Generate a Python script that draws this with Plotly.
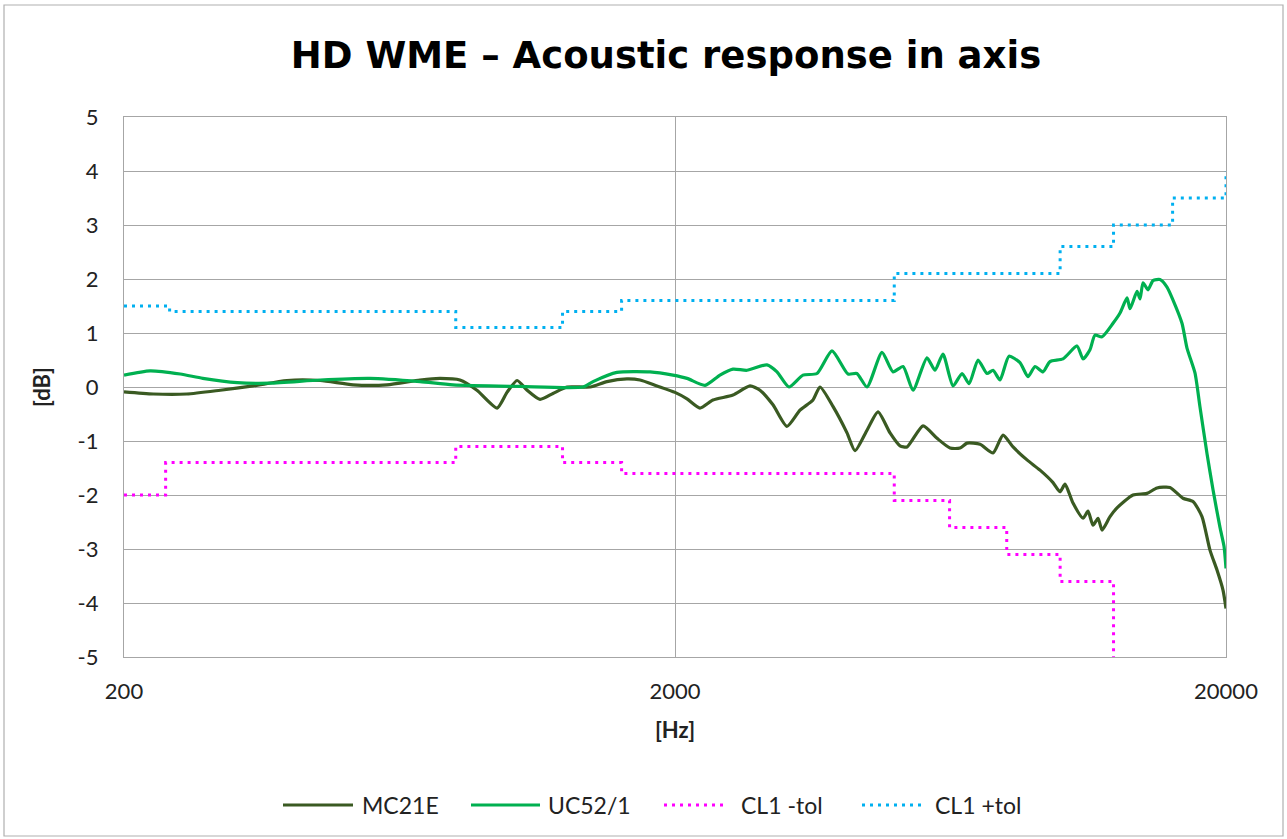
import plotly.graph_objects as go

# ---- data (frequency in Hz, level in dB) ----
mc21e_freq = [200, 226, 260, 299, 343, 395, 454, 521, 600, 689, 749, 814, 874, 951, 991,
              1034, 1078, 1138, 1201, 1274, 1403, 1505, 1636, 1728, 1855, 2000, 2103, 2220,
              2344, 2548, 2736, 2853, 3012, 3193, 3372, 3560, 3666, 3870, 4104, 4243, 4462,
              4672, 4912, 5122, 5274, 5639, 5979, 6312, 6582, 6778, 7156, 7554, 7877, 8214,
              8708, 9194, 9707, 9994, 10206, 10553, 11004, 11236, 11474, 11716, 11914, 12318,
              12683, 13560, 14376, 14990, 15826, 16710, 17422, 18090, 18704, 19262, 19750, 20000]
mc21e_db = [-0.09, -0.13, -0.13, -0.06, 0.02, 0.12, 0.12, 0.04, 0.04, 0.13, 0.16, 0.13, -0.06,
            -0.39, -0.10, 0.12, -0.06, -0.23, -0.12, 0.0, 0.0, 0.10, 0.15, 0.13, 0.02, -0.10,
            -0.22, -0.39, -0.24, -0.15, 0.02, -0.06, -0.33, -0.73, -0.43, -0.24, 0.0, -0.36,
            -0.85, -1.18, -0.80, -0.46, -0.85, -1.09, -1.11, -0.72, -0.95, -1.13, -1.13, -1.04,
            -1.06, -1.22, -0.89, -1.11, -1.35, -1.54, -1.77, -1.94, -1.80, -2.15, -2.43, -2.30,
            -2.56, -2.43, -2.65, -2.40, -2.24, -2.00, -1.97, -1.87, -1.86, -2.06, -2.12, -2.40,
            -3.02, -3.39, -3.76, -4.10]

uc52_freq = [200, 223, 253, 278, 321, 368, 454, 559, 689, 791, 1047, 1362, 1420, 1569, 1802,
             1983, 2103, 2267, 2413, 2548, 2702, 2937, 3063, 3220, 3414, 3620, 3854, 4122, 4277,
             4462, 4750, 4974, 5187, 5408, 5732, 5928, 6128, 6392, 6638, 6836, 7096, 7367, 7554,
             7778, 8076, 8456, 8744, 9004, 9310, 9584, 10120, 10732, 11004, 11328, 11568, 11914,
             12474, 12844, 13226, 13392, 13790, 13964, 14140, 14436, 14742, 15180, 15630, 16028,
             16640, 16992, 17568, 17940, 18472, 18940, 19504, 19834, 20000]
uc52_db = [0.22, 0.30, 0.24, 0.16, 0.08, 0.07, 0.13, 0.16, 0.10, 0.04, 0.01, 0.0, 0.10, 0.27,
           0.28, 0.22, 0.16, 0.03, 0.22, 0.33, 0.31, 0.41, 0.28, 0.0, 0.22, 0.25, 0.67, 0.24,
           0.25, 0.0, 0.64, 0.28, 0.38, -0.06, 0.54, 0.31, 0.61, 0.02, 0.25, 0.06, 0.50, 0.25,
           0.31, 0.13, 0.57, 0.45, 0.19, 0.38, 0.28, 0.47, 0.52, 0.76, 0.52, 0.69, 0.96, 0.93,
           1.18, 1.37, 1.65, 1.45, 1.77, 1.63, 1.93, 1.80, 1.97, 1.99, 1.85, 1.61, 1.18, 0.72,
           0.26, -0.37, -1.23, -1.90, -2.60, -2.95, -3.36]

tol_minus_freq = [200, 238, 800, 1250, 1600, 5000, 6300, 8000, 10000, 12500]
tol_minus_db = [-2.0, -1.4, -1.1, -1.4, -1.6, -2.1, -2.6, -3.1, -3.6, -5.0]

tol_plus_freq = [200, 242, 800, 1250, 1600, 5000, 10000, 12500, 16000, 20000]
tol_plus_db = [1.5, 1.4, 1.1, 1.4, 1.6, 2.1, 2.6, 3.0, 3.5, 4.0]

x_ticks = [200, 2000, 20000]
y_ticks = [5, 4, 3, 2, 1, 0, -1, -2, -3, -4, -5]

FONT = "Lato"
GRID = "#a6a6a6"
DOTS = "3px,5px"

series = [
    dict(name="MC21E", x=mc21e_freq, y=mc21e_db, color="#3a5a22", dash="solid", shape="spline", width=3.2),
    dict(name="UC52/1", x=uc52_freq, y=uc52_db, color="#00b050", dash="solid", shape="spline", width=3.2),
    dict(name="CL1 -tol", x=tol_minus_freq, y=tol_minus_db, color="#ff00ff", dash=DOTS, shape="hv", width=3),
    dict(name="CL1 +tol", x=tol_plus_freq, y=tol_plus_db, color="#00b0f0", dash=DOTS, shape="hv", width=3),
]

fig = go.Figure()
for s in series:
    line = dict(color=s["color"], width=s["width"], dash=s["dash"], shape=s["shape"])
    if s["shape"] == "spline":
        line["smoothing"] = 0.6
    fig.add_trace(go.Scatter(x=s["x"], y=s["y"], name=s["name"], mode="lines",
                             line=line, showlegend=False))

fig.update_layout(
    width=1287, height=839,
    margin=dict(l=124, r=61, t=117, b=182),
    paper_bgcolor="white", plot_bgcolor="white",
    title=dict(text="<b>HD WME – Acoustic response in axis</b>", x=0.5175, xanchor="center",
               y=0.934, yanchor="middle",
               font=dict(family="DejaVu Sans", size=37, color="black")),
    xaxis=dict(type="log", range=[2.30103, 4.30103], tickvals=x_ticks,
               ticktext=[str(v) for v in x_ticks],
               showgrid=True, gridcolor=GRID, gridwidth=1.3,
               showline=True, linecolor=GRID, linewidth=1.3, mirror=True,
               zeroline=False, ticks="", ticklabelstandoff=14,
               tickfont=dict(family=FONT, size=22, color="#222"),
               title=dict(text="<b>[Hz]</b>", standoff=20,
                          font=dict(family=FONT, size=22, color="#222"))),
    yaxis=dict(range=[-5, 5], tickvals=y_ticks, ticktext=[str(v) for v in y_ticks],
               showgrid=True, gridcolor=GRID, gridwidth=1.3,
               showline=True, linecolor=GRID, linewidth=1.3, mirror=True,
               zeroline=False, ticks="", ticklabelstandoff=20,
               tickfont=dict(family=FONT, size=22, color="#222"),
               title=dict(text="<b>[dB]</b>", standoff=20,
                          font=dict(family=FONT, size=22, color="#222"))),
    showlegend=False,
)

# custom legend (long line samples like the original), paper coords
def px_x(px):
    return (px - 124) / 1102.0

def px_y(py):
    return (657 - py) / 540.0

legend_pos = [(283, 353, 360), (471, 540, 546), (664, 728, 739), (862, 923, 933)]
ly = px_y(805)
for s, (x0, x1, xt) in zip(series, legend_pos):
    fig.add_shape(type="line", xref="paper", yref="paper",
                  x0=px_x(x0), x1=px_x(x1), y0=ly, y1=ly,
                  line=dict(color=s["color"], width=s["width"], dash=s["dash"]))
    fig.add_annotation(xref="paper", yref="paper", x=px_x(xt), y=ly, text=s["name"],
                       showarrow=False, xanchor="left", yanchor="middle",
                       font=dict(family=FONT, size=23, color="#222"))

# light outer chart border
fig.add_shape(type="rect", xref="paper", yref="paper",
              x0=px_x(4), x1=px_x(1283), y0=px_y(836), y1=px_y(5),
              line=dict(color="#b0b0b0", width=1.2), fillcolor="rgba(0,0,0,0)", layer="below")

fig.write_html("out.html", config={"displayModeBar": False},
               post_script="document.body.style.margin='0';")
